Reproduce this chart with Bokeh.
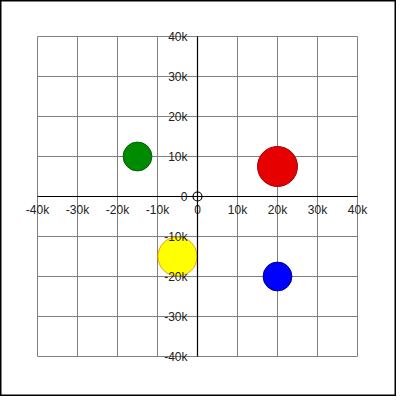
from bokeh.plotting import figure
from bokeh.models import FixedTicker, CustomJSTickFormatter, Range1d
from bokeh.embed import file_html
from bokeh.resources import INLINE

# data
names = ["green", "red", "yellow", "blue"]
xs = [-15000, 20000, -5000, 20000]
ys = [10000, 7500, -15000, -20000]
radii = [3600, 5000, 4900, 3600]
fills = ["#008a00", "#e60000", "#ffff00", "#0000ff"]
lines = ["#006400", "#a00000", "#e8a000", "#00008b"]
origin_x = [0]
origin_y = [0]
ticks = [-40000, -30000, -20000, -10000, 0, 10000, 20000, 30000, 40000]
lo, hi = ticks[0], ticks[-1]

p = figure(width=396, height=396, output_backend="svg", toolbar_location=None,
           x_range=Range1d(-49250, 49750), y_range=Range1d(-50000, 49000),
           min_border_left=0, min_border_right=0, min_border_top=0, min_border_bottom=0,
           background_fill_color="white", border_fill_color="white")

p.outline_line_color = "black"
p.outline_line_width = 2
p.xgrid.visible = False
p.ygrid.visible = False

# grid lines limited to the tick span
p.segment(x0=ticks, y0=[lo] * len(ticks), x1=ticks, y1=[hi] * len(ticks),
          line_color="#808080", line_width=1)
p.segment(x0=[lo] * len(ticks), y0=ticks, x1=[hi] * len(ticks), y1=ticks,
          line_color="#808080", line_width=1)

fmt = CustomJSTickFormatter(code="return tick == 0 ? '0' : (tick/1000) + 'k';")
for ax in (p.xaxis[0], p.yaxis[0]):
    ax.ticker = FixedTicker(ticks=ticks)
    ax.formatter = fmt
    ax.fixed_location = 0
    ax.bounds = (lo, hi)
    ax.major_tick_out = 0
    ax.major_tick_in = 0
    ax.minor_tick_out = 0
    ax.minor_tick_in = 0
    ax.axis_line_color = "black"
    ax.axis_line_width = 1.2
    ax.major_label_text_font = "Liberation Sans"
    ax.major_label_text_font_size = "12px"
    ax.major_label_text_color = "#222222"
p.xaxis[0].major_label_standoff = 6
p.yaxis[0].major_label_standoff = 10

p.circle(x=xs, y=ys, radius=radii, fill_color=fills, line_color=lines, line_width=1)
p.scatter(x=origin_x, y=origin_y, size=9, marker="circle", fill_color=None,
          line_color="black", line_width=1.2)

open("out.html", "w").write(file_html(p, INLINE))
